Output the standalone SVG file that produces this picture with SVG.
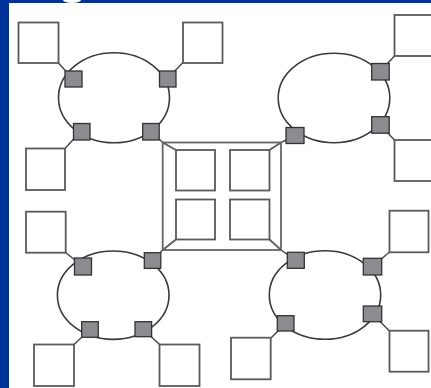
<svg xmlns="http://www.w3.org/2000/svg" width="431" height="388" viewBox="0 0 431 388">
<style>
.ring{fill:none;stroke:#3a3a3a;stroke-width:1.6}
.port{fill:#8c8c90;stroke:#333;stroke-width:1.3}
.host{fill:#fff;stroke:#5a5a5a;stroke-width:1.8}
.wire{fill:none;stroke:#444;stroke-width:1.4}
.frame{fill:none;stroke:#666;stroke-width:1.8}
</style>
<rect x="0" y="0" width="431" height="388" fill="#fff"/>
<rect x="0" y="0" width="431" height="3" fill="#00339a"/>
<rect x="0" y="0" width="9" height="388" fill="#00339a"/>
<ellipse cx="72" cy="0" rx="9" ry="3" fill="#fff"/>
<g id="connectors">
<line class="wire" x1="58" y1="62.5" x2="73" y2="79"/>
<line class="wire" x1="183" y1="62.5" x2="167" y2="79"/>
<line class="wire" x1="65" y1="148.5" x2="81" y2="131"/>
<polyline class="wire" points="151,131.5 162.7,142.5 176,150"/>
<line class="wire" x1="394.5" y1="56" x2="380" y2="71.5"/>
<line class="wire" x1="394.5" y1="140" x2="380" y2="125"/>
<polyline class="wire" points="295,135.5 281,142.5 269.5,150"/>
<line class="wire" x1="65.5" y1="252.5" x2="83" y2="266.5"/>
<polyline class="wire" points="152.5,260.5 162.7,250 176,239.5"/>
<line class="wire" x1="74" y1="344.5" x2="90" y2="329.5"/>
<line class="wire" x1="159.5" y1="344.5" x2="143" y2="329"/>
<polyline class="wire" points="296,260.5 281,250 269.5,239.5"/>
<line class="wire" x1="389.5" y1="252" x2="372.5" y2="266.5"/>
<line class="wire" x1="389.5" y1="331" x2="372.5" y2="314"/>
<line class="wire" x1="271" y1="338" x2="285.5" y2="323.5"/>
</g>
<g id="center-switch">
<rect class="frame" x="162.7" y="142.5" width="118.3" height="107.5"/>
<line class="frame" x1="162.7" y1="142.5" x2="176" y2="150"/>
<line class="frame" x1="281" y1="142.5" x2="269.5" y2="150"/>
<line class="frame" x1="162.7" y1="250" x2="176" y2="239.5"/>
<line class="frame" x1="281" y1="250" x2="269.5" y2="239.5"/>
<rect class="host" x="176" y="150" width="39" height="40.5"/>
<rect class="host" x="230" y="150" width="39.5" height="40.5"/>
<rect class="host" x="176" y="199.5" width="39" height="40"/>
<rect class="host" x="230" y="199.5" width="39.5" height="40"/>
</g>
<g id="ring-tl">
<ellipse class="ring" cx="114" cy="97.7" rx="55.5" ry="45"/>
<rect class="port" x="65" y="71" width="17" height="16"/>
<rect class="port" x="159.5" y="71" width="16.5" height="16"/>
<rect class="port" x="73.5" y="123.5" width="16.5" height="16.5"/>
<rect class="port" x="142.7" y="123.5" width="16.5" height="16.5"/>
</g>
<g id="host-tl-1"><rect class="host" x="18.5" y="22.5" width="40" height="40.5"/></g>
<g id="host-tl-2"><rect class="host" x="183" y="22.5" width="39.5" height="40.5"/></g>
<g id="host-tl-3"><rect class="host" x="26" y="148.5" width="39" height="41.5"/></g>
<g id="ring-tr">
<ellipse class="ring" cx="334" cy="98" rx="55.8" ry="44.7"/>
<rect class="port" x="371.7" y="63.5" width="17.5" height="16.5"/>
<rect class="port" x="371.7" y="116.7" width="17.5" height="16.5"/>
<rect class="port" x="286" y="127.5" width="18" height="16"/>
</g>
<g id="host-tr-1"><rect class="host" x="394.5" y="15" width="40" height="41"/></g>
<g id="host-tr-2"><rect class="host" x="394.5" y="140" width="40" height="41"/></g>
<g id="ring-bl">
<ellipse class="ring" cx="113.2" cy="295.2" rx="55.8" ry="44.2"/>
<rect class="port" x="74.5" y="258" width="17" height="17"/>
<rect class="port" x="144.3" y="252.7" width="16.5" height="15.7"/>
<rect class="port" x="81.7" y="321.7" width="16.6" height="15.6"/>
<rect class="port" x="135" y="321.7" width="16.6" height="15"/>
</g>
<g id="host-bl-1"><rect class="host" x="26" y="211.7" width="39.7" height="41"/></g>
<g id="host-bl-2"><rect class="host" x="34" y="344.5" width="40" height="41.5"/></g>
<g id="host-bl-3"><rect class="host" x="159.5" y="344.5" width="40" height="41.5"/></g>
<g id="ring-br">
<ellipse class="ring" cx="325" cy="295" rx="55.7" ry="44.3"/>
<rect class="port" x="287.3" y="252.3" width="17" height="16"/>
<rect class="port" x="363.3" y="258.3" width="18.4" height="16.7"/>
<rect class="port" x="277.3" y="315.7" width="16.7" height="15.3"/>
<rect class="port" x="363.3" y="306" width="18.4" height="15.7"/>
</g>
<g id="host-br-1"><rect class="host" x="389.5" y="210.7" width="39" height="41.6"/></g>
<g id="host-br-2"><rect class="host" x="389.5" y="330.7" width="39" height="41"/></g>
<g id="host-br-3"><rect class="host" x="231" y="337.7" width="39.7" height="41.6"/></g>
</svg>
